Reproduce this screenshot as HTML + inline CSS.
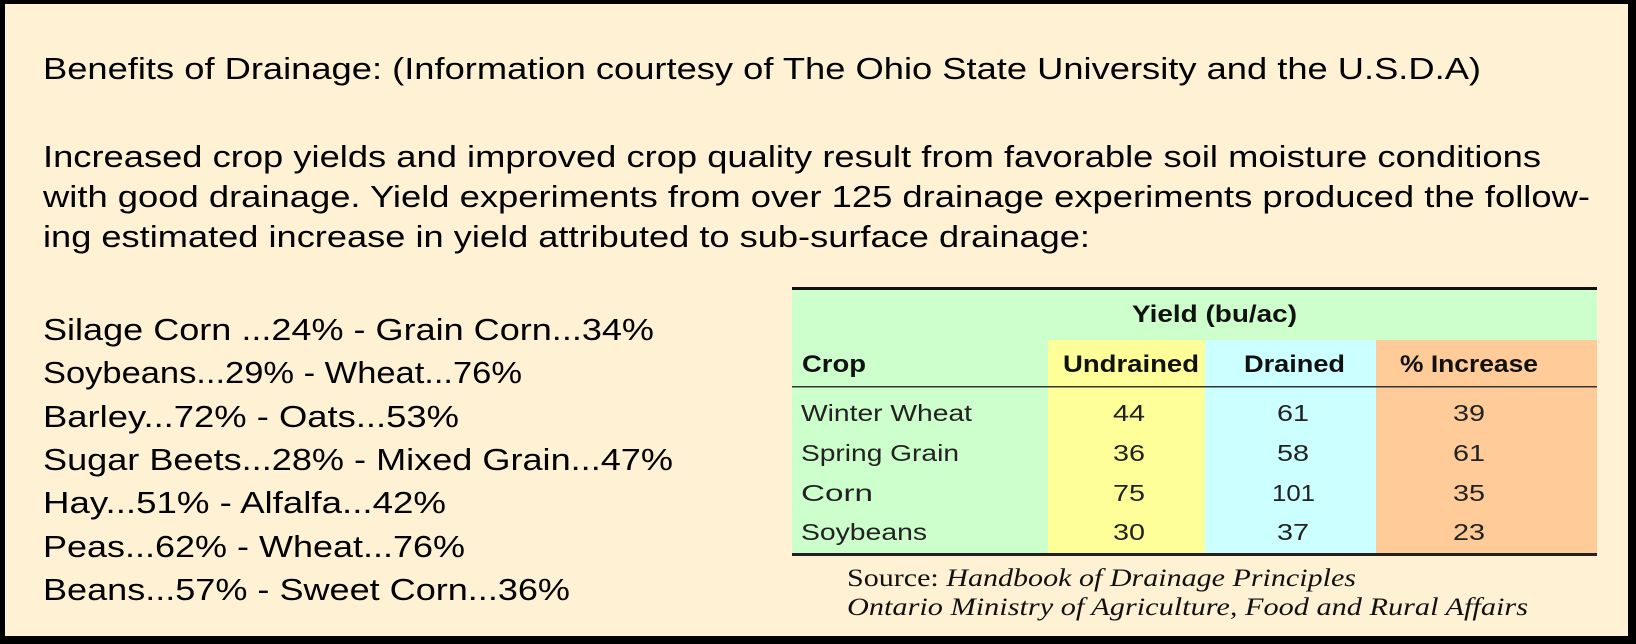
<!DOCTYPE html>
<html><head><meta charset="utf-8"><style>
html,body{margin:0;padding:0;background:#000;width:1636px;height:644px;overflow:hidden}
svg{display:block}
</style></head><body>
<svg width="1636" height="644" xmlns="http://www.w3.org/2000/svg">
<rect x="0" y="0" width="1636" height="644" fill="#000"/>
<rect x="5" y="4" width="1623" height="632" fill="#fff2d4"/>
<g font-family="Liberation Sans, Arial, sans-serif" font-size="31" fill="#000">
<text x="43" y="79" textLength="1438" lengthAdjust="spacingAndGlyphs">Benefits of Drainage: (Information courtesy of The Ohio State University and the U.S.D.A)</text>
<text x="43" y="167" textLength="1498" lengthAdjust="spacingAndGlyphs">Increased crop yields and improved crop quality result from favorable soil moisture conditions</text>
<text x="43" y="207" textLength="1547" lengthAdjust="spacingAndGlyphs">with good drainage. Yield experiments from over 125 drainage experiments produced the follow-</text>
<text x="43" y="247" textLength="1047" lengthAdjust="spacingAndGlyphs">ing estimated increase in yield attributed to sub-surface drainage:</text>
</g>
<g font-family="Liberation Sans, Arial, sans-serif" font-size="31" fill="#000">
<text x="43" y="340" textLength="611" lengthAdjust="spacingAndGlyphs">Silage Corn ...24% - Grain Corn...34%</text>
<text x="43" y="383" textLength="479" lengthAdjust="spacingAndGlyphs">Soybeans...29% - Wheat...76%</text>
<text x="43" y="427" textLength="416" lengthAdjust="spacingAndGlyphs">Barley...72% - Oats...53%</text>
<text x="43" y="470" textLength="630" lengthAdjust="spacingAndGlyphs">Sugar Beets...28% - Mixed Grain...47%</text>
<text x="43" y="513" textLength="403" lengthAdjust="spacingAndGlyphs">Hay...51% - Alfalfa...42%</text>
<text x="43" y="557" textLength="422" lengthAdjust="spacingAndGlyphs">Peas...62% - Wheat...76%</text>
<text x="43" y="600" textLength="527" lengthAdjust="spacingAndGlyphs">Beans...57% - Sweet Corn...36%</text>
</g>
<!-- table -->
<rect x="792" y="289" width="805" height="266" fill="#ccffcc"/>
<rect x="1048" y="340" width="157" height="215" fill="#ffff99"/>
<rect x="1205" y="340" width="171" height="215" fill="#ccffff"/>
<rect x="1376" y="340" width="221" height="215" fill="#ffcc99"/>
<rect x="792" y="287" width="805" height="3" fill="#111"/>
<rect x="792" y="386" width="805" height="1.5" fill="#333"/>
<rect x="792" y="553" width="805" height="3" fill="#222"/>
<g font-family="Liberation Sans, Arial, sans-serif" font-size="24" font-weight="bold" fill="#111">
<text x="1132" y="322" textLength="165" lengthAdjust="spacingAndGlyphs">Yield (bu/ac)</text>
<text x="802" y="372" textLength="64" lengthAdjust="spacingAndGlyphs">Crop</text>
<text x="1063" y="372" textLength="136" lengthAdjust="spacingAndGlyphs">Undrained</text>
<text x="1244" y="372" textLength="101" lengthAdjust="spacingAndGlyphs">Drained</text>
<text x="1400" y="372" textLength="138" lengthAdjust="spacingAndGlyphs">% Increase</text>
</g>
<g font-family="Liberation Sans, Arial, sans-serif" font-size="23" fill="#222">
<text x="801" y="421" textLength="171" lengthAdjust="spacingAndGlyphs">Winter Wheat</text>
<text x="801" y="461" textLength="158" lengthAdjust="spacingAndGlyphs">Spring Grain</text>
<text x="801" y="501" textLength="72" lengthAdjust="spacingAndGlyphs">Corn</text>
<text x="801" y="540" textLength="126" lengthAdjust="spacingAndGlyphs">Soybeans</text>
<text x="1113" y="421" textLength="32" lengthAdjust="spacingAndGlyphs">44</text>
<text x="1113" y="461" textLength="32" lengthAdjust="spacingAndGlyphs">36</text>
<text x="1113" y="501" textLength="32" lengthAdjust="spacingAndGlyphs">75</text>
<text x="1113" y="540" textLength="32" lengthAdjust="spacingAndGlyphs">30</text>
<text x="1277" y="421" textLength="32" lengthAdjust="spacingAndGlyphs">61</text>
<text x="1277" y="461" textLength="32" lengthAdjust="spacingAndGlyphs">58</text>
<text x="1272" y="501" textLength="43" lengthAdjust="spacingAndGlyphs">101</text>
<text x="1277" y="540" textLength="32" lengthAdjust="spacingAndGlyphs">37</text>
<text x="1453" y="421" textLength="32" lengthAdjust="spacingAndGlyphs">39</text>
<text x="1453" y="461" textLength="32" lengthAdjust="spacingAndGlyphs">61</text>
<text x="1453" y="501" textLength="32" lengthAdjust="spacingAndGlyphs">35</text>
<text x="1453" y="540" textLength="32" lengthAdjust="spacingAndGlyphs">23</text>
</g>
<g font-family="Liberation Serif, Times New Roman, serif" font-size="25" fill="#111">
<text x="847" y="586" textLength="509" lengthAdjust="spacingAndGlyphs">Source: <tspan font-style="italic">Handbook of Drainage Principles</tspan></text>
<text x="847" y="615" font-style="italic" textLength="681" lengthAdjust="spacingAndGlyphs">Ontario Ministry of Agriculture, Food and Rural Affairs</text>
</g>
</svg>
</body></html>
